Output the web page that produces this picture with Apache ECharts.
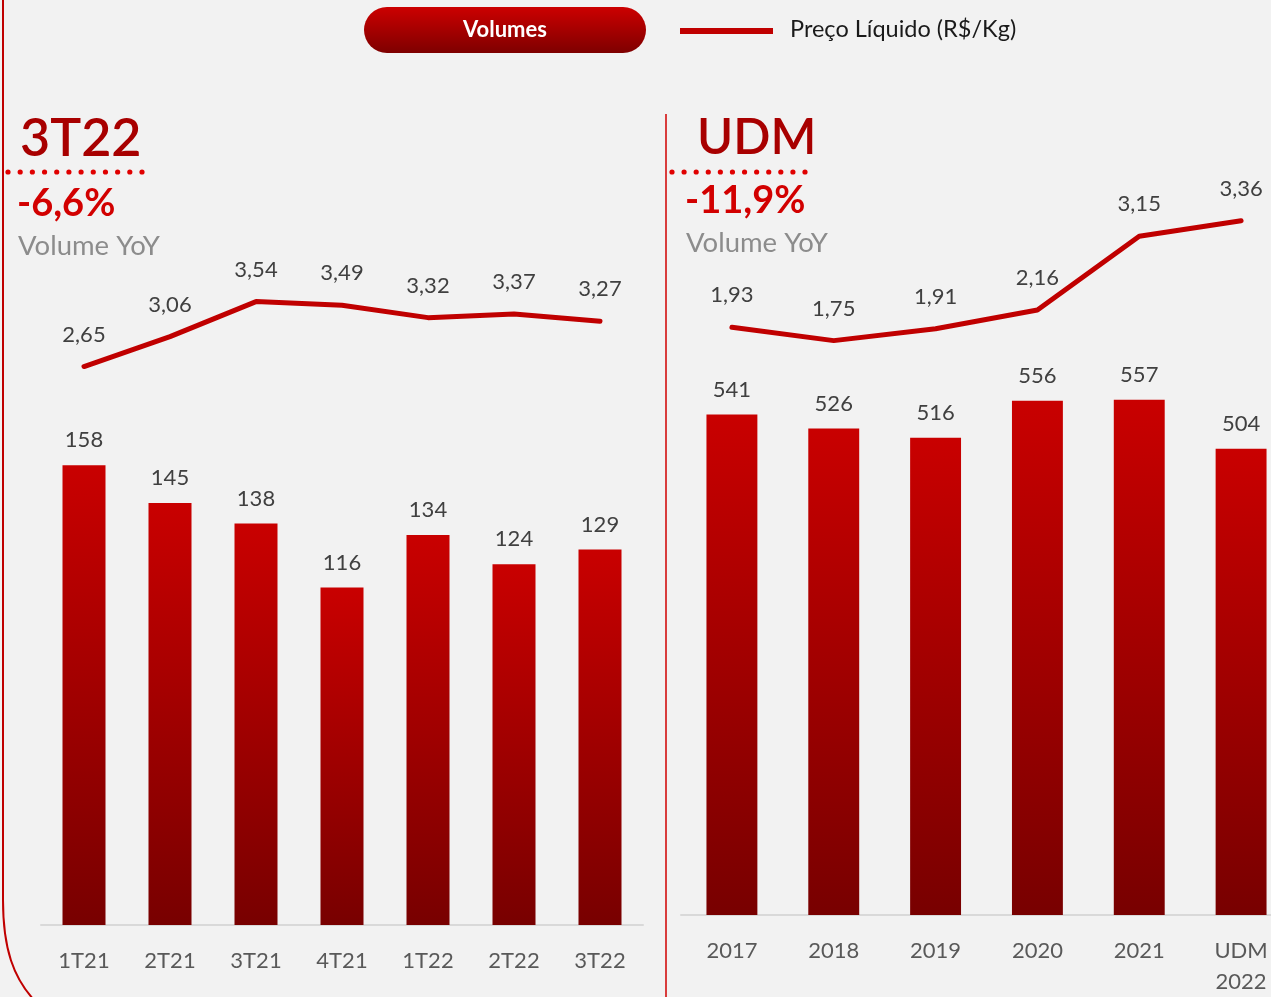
<!DOCTYPE html>
<html>
<head>
<meta charset="utf-8">
<script src="https://cdn.jsdelivr.net/npm/echarts@6/dist/echarts.min.js"></script>
<style>
html,body{margin:0;padding:0;background:#f2f2f2;overflow:hidden;}
#chart{width:1300px;height:997px;}
</style>
</head>
<body>
<div id="chart"></div>
<script>
// ---- data ----
const leftCats = ['1T21', '2T21', '3T21', '4T21', '1T22', '2T22', '3T22'];
const leftVolumes = [158, 145, 138, 116, 134, 124, 129];
const leftPrices = [2.65, 3.06, 3.54, 3.49, 3.32, 3.37, 3.27];
const rightCats = ['2017', '2018', '2019', '2020', '2021', 'UDM\n2022'];
const rightVolumes = [541, 526, 516, 556, 557, 504];
const rightPrices = [1.93, 1.75, 1.91, 2.16, 3.15, 3.36];
const leftTitle = '3T22';
const leftYoY = '-6,6%';
const rightTitle = 'UDM';
const rightYoY = '-11,9%';
const yoyLabel = 'Volume YoY';
const barLegend = 'Volumes';
const lineLegend = 'Preço Líquido (R$/Kg)';

const FONT = 'Lato, "Open Sans", sans-serif';
const chart = echarts.init(document.getElementById('chart'));

const barGradient = new echarts.graphic.LinearGradient(0, 0, 0, 1, [
  { offset: 0, color: '#c90000' },
  { offset: 1, color: '#780000' }
]);
const comma = v => v.toFixed(2).replace('.', ',');

const xAxisBase = {
  type: 'category',
  axisTick: { show: false },
  axisLine: { show: true, lineStyle: { color: '#d9d9d9', width: 2 } },
  axisLabel: { color: '#595959', fontSize: 22, fontFamily: FONT, margin: 20, lineHeight: 31 }
};
const hiddenX = { type: 'category', show: false };
const hiddenY = { type: 'value', show: false, splitLine: { show: false } };

function dots(x0, x1, y, n) {
  const arr = [];
  for (let i = 0; i < n; i++) {
    arr.push({
      type: 'circle',
      shape: { cx: x0 + (x1 - x0) * i / (n - 1), cy: y, r: 2.6 },
      style: { fill: '#e00000' }
    });
  }
  return arr;
}

const lineLabel = { show: true, position: 'top', distance: 20, color: '#404040', fontSize: 22, fontFamily: FONT,
  formatter: p => comma(p.value) };

const option = {
  backgroundColor: '#f2f2f2',
  animation: false,
  grid: [
    { left: 41, width: 602, top: 343, height: 582 },
    { left: 41, width: 602, top: 268, height: 292 },
    { left: 681, width: 611, top: 360, height: 560 },
    { left: 681, width: 611, top: 173, height: 298 }
  ],
  xAxis: [
    Object.assign({}, xAxisBase, { gridIndex: 0, data: leftCats }),
    Object.assign({}, hiddenX, { gridIndex: 1, data: leftCats }),
    Object.assign({}, xAxisBase, { gridIndex: 2, data: rightCats }),
    Object.assign({}, hiddenX, { gridIndex: 3, data: rightCats })
  ],
  yAxis: [
    Object.assign({}, hiddenY, { gridIndex: 0, min: 0, max: 200 }),
    Object.assign({}, hiddenY, { gridIndex: 1, min: 0, max: 4 }),
    Object.assign({}, hiddenY, { gridIndex: 2, min: 0, max: 600 }),
    Object.assign({}, hiddenY, { gridIndex: 3, min: 0, max: 4 })
  ],
  series: [
    {
      name: barLegend, type: 'bar', xAxisIndex: 0, yAxisIndex: 0,
      data: leftVolumes, barWidth: '50%',
      itemStyle: { color: barGradient },
      label: { show: true, position: 'top', distance: 14, color: '#404040', fontSize: 22, fontFamily: FONT }
    },
    {
      name: lineLegend, type: 'line', xAxisIndex: 1, yAxisIndex: 1,
      data: leftPrices, symbol: 'circle', symbolSize: 2, showSymbol: true,
      itemStyle: { color: '#c00000' },
      lineStyle: { color: '#c00000', width: 5, cap: 'round' },
      label: lineLabel
    },
    {
      name: barLegend, type: 'bar', xAxisIndex: 2, yAxisIndex: 2,
      data: rightVolumes, barWidth: '50%',
      itemStyle: { color: barGradient },
      label: { show: true, position: 'top', distance: 14, color: '#404040', fontSize: 22, fontFamily: FONT }
    },
    {
      name: lineLegend, type: 'line', xAxisIndex: 3, yAxisIndex: 3,
      data: rightPrices, symbol: 'circle', symbolSize: 2, showSymbol: true,
      itemStyle: { color: '#c00000' },
      lineStyle: { color: '#c00000', width: 5, cap: 'round' },
      label: lineLabel
    }
  ],
  graphic: [
    // left rounded border
    { type: 'line', shape: { x1: 3, y1: 0, x2: 3, y2: 900 },
      style: { stroke: '#c00000', lineWidth: 2 } },
    { type: 'bezierCurve', shape: { x1: 3, y1: 900, cpx1: 3, cpy1: 950, cpx2: 14, cpy2: 978, x2: 34, y2: 1000 },
      style: { stroke: '#c00000', lineWidth: 2, fill: null } },
    // separator
    { type: 'line', shape: { x1: 666, y1: 114, x2: 666, y2: 997 },
      style: { stroke: '#d00000', lineWidth: 1.5 } },
    // legend pill
    { type: 'rect', shape: { x: 364, y: 7, width: 282, height: 46, r: 23 },
      style: { fill: new echarts.graphic.LinearGradient(0, 0, 0, 1, [
        { offset: 0, color: '#cc0000' }, { offset: 1, color: '#7e0000' }]) } },
    { type: 'text', x: 505, y: 30, style: { text: barLegend, fill: '#ffffff', font: 'bold 22px ' + FONT,
        textAlign: 'center', textVerticalAlign: 'middle' } },
    { type: 'line', shape: { x1: 680, y1: 31, x2: 773, y2: 31 },
      style: { stroke: '#c00000', lineWidth: 6 } },
    { type: 'text', x: 790, y: 29, style: { text: lineLegend, fill: '#1a1a1a', font: '23.5px ' + FONT,
        textVerticalAlign: 'middle' } },
    // left header
    { type: 'text', x: 20, y: 139, style: { text: leftTitle, fill: '#a80000', font: '600 52px ' + FONT, textVerticalAlign: 'middle' } },
    { type: 'text', x: 17, y: 204, style: { text: leftYoY, fill: '#d20000', font: 'bold 38px ' + FONT, textVerticalAlign: 'middle' } },
    { type: 'text', x: 18, y: 246, style: { text: yoyLabel, fill: '#8c8c8c', font: '27.5px ' + FONT, textVerticalAlign: 'middle' } },
    // right header
    { type: 'text', x: 697, y: 138, style: { text: rightTitle, fill: '#a80000', font: '600 49px ' + FONT, textVerticalAlign: 'middle' } },
    { type: 'text', x: 685, y: 201, style: { text: rightYoY, fill: '#d20000', font: 'bold 38px ' + FONT, textVerticalAlign: 'middle' } },
    { type: 'text', x: 686, y: 243, style: { text: yoyLabel, fill: '#8c8c8c', font: '27.5px ' + FONT, textVerticalAlign: 'middle' } }
  ].concat(dots(8, 142, 172, 12)).concat(dots(672, 805, 172, 12))
};
chart.setOption(option);
</script>
</body>
</html>
